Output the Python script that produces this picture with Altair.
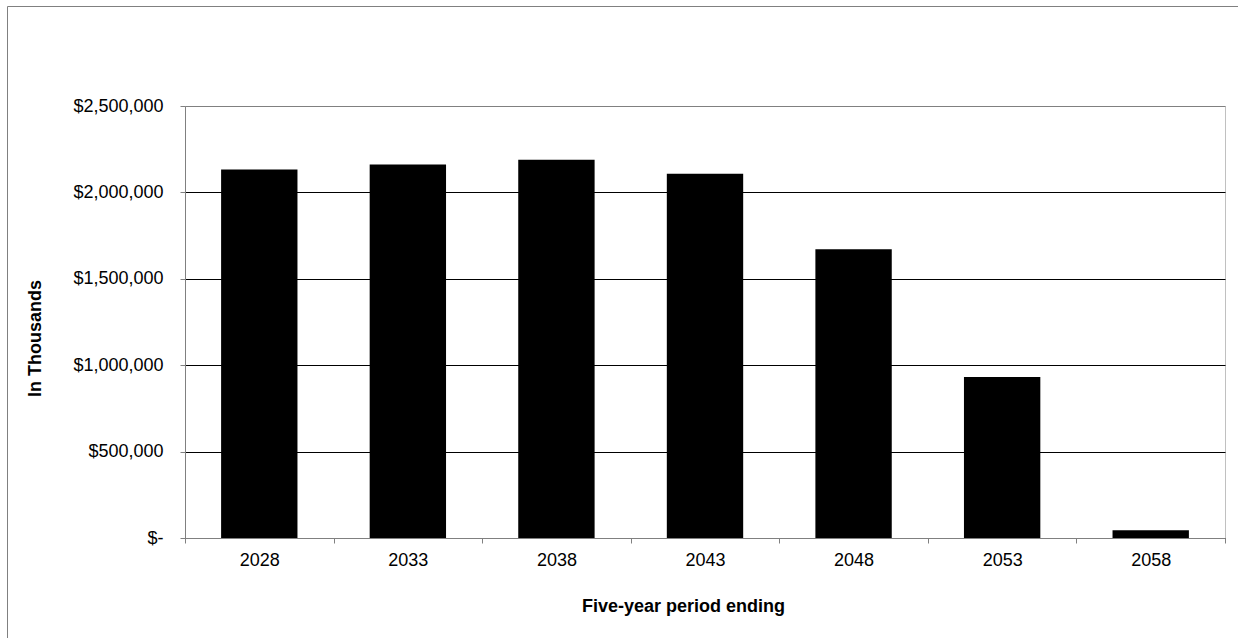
import altair as alt
import pandas as pd

years = ["2028", "2033", "2038", "2043", "2048", "2053", "2058"]
values = [2133000, 2162000, 2189000, 2108000, 1671000, 932000, 45000]
y_ticks = [0, 500000, 1000000, 1500000, 2000000, 2500000]

df = pd.DataFrame({"year": years, "value": values})

FONT = "Liberation Sans"
W, H = 1040, 432
LEFT, TOP = 185, 106

bars = alt.Chart(df).mark_bar(color="#000000", width={"band": 0.514}).encode(
    x=alt.X(
        "year:N",
        sort=years,
        scale=alt.Scale(paddingInner=0, paddingOuter=0),
        axis=alt.Axis(
            title="Five-year period ending",
            titleFont=FONT, titleFontSize=18, titleFontWeight="bold", titleColor="#000",
            titleX=498, titleY=73, titleAlign="center", titleBaseline="alphabetic",
            titleAnchor=None,
            labelFont=FONT, labelFontSize=18, labelColor="#000", labelAngle=0,
            labelPadding=8, labelBaseline="top",
            tickBand="extent", tickSize=5, tickColor="#808080",
            domainColor="#808080", grid=False,
        ),
    ),
    y=alt.Y(
        "value:Q",
        scale=alt.Scale(domain=[0, 2500000], nice=False),
        axis=alt.Axis(
            title="In Thousands",
            titleFont=FONT, titleFontSize=18, titleFontWeight="bold", titleColor="#000",
            titleX=-145, titleY=232, titleAlign="center", titleBaseline="alphabetic",
            titleAngle=270,
            values=y_ticks,
            labelExpr="datum.value == 0 ? '$-' : '$' + format(datum.value, ',')",
            labelFont=FONT, labelFontSize=18, labelColor="#000", labelPadding=17,
            tickSize=5, tickColor="#808080", domainColor="#808080",
            grid=True,
            gridColor={"condition": {"test": "datum.value >= 2500000", "value": "#808080"},
                       "value": "#000000"},
            gridWidth=1,
        ),
    ),
)

# decorative outer frame (chart border), positioned in pixels
frame_v = alt.Chart(df.head(1)).mark_rule(color="#808080", strokeWidth=1).encode(
    x=alt.value(7.5 - LEFT), y=alt.value(6.5 - TOP), y2=alt.value(640 - TOP)
)
frame_h = alt.Chart(df.head(1)).mark_rule(color="#808080", strokeWidth=1).encode(
    y=alt.value(6.5 - TOP), x=alt.value(7.5 - LEFT), x2=alt.value(1240 - LEFT)
)

chart = alt.layer(bars, frame_v, frame_h).properties(
    width=W, height=H,
    autosize=alt.AutoSizeParams(type="none"),
    padding={"left": LEFT, "top": TOP, "right": 1238 - LEFT - W, "bottom": 638 - TOP - H},
    background="#ffffff",
).configure_view(stroke="#c0c0c0", strokeWidth=1)

chart.save("out.html", embed_options={"renderer": "svg", "actions": False})
